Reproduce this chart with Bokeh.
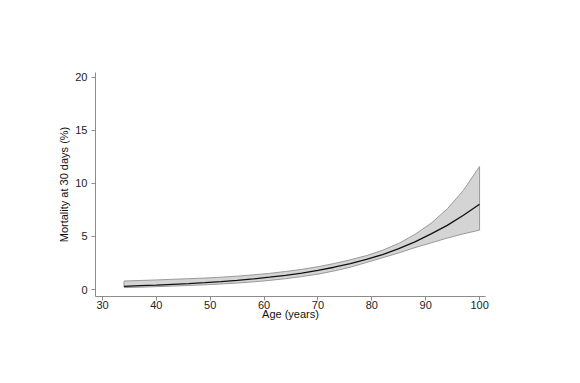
from bokeh.plotting import figure
from bokeh.models import ColumnDataSource, Range1d, FixedTicker
from bokeh.embed import file_html
from bokeh.resources import INLINE

age = [34, 37, 40, 43, 46, 49, 52, 55, 58, 61, 64, 67, 70, 73, 76, 79, 82, 85, 88, 91, 94, 97, 100]
mortality = [0.30, 0.36, 0.42, 0.49, 0.56, 0.64, 0.74, 0.86, 1.00, 1.16, 1.34, 1.55, 1.80, 2.10,
             2.45, 2.85, 3.30, 3.85, 4.50, 5.25, 6.05, 7.00, 8.05]
lower = [0.18, 0.22, 0.27, 0.32, 0.38, 0.44, 0.52, 0.61, 0.72, 0.86, 1.02, 1.22, 1.45, 1.75,
         2.10, 2.55, 3.00, 3.45, 3.95, 4.40, 4.85, 5.25, 5.60]
upper = [0.80, 0.85, 0.90, 0.96, 1.02, 1.08, 1.16, 1.26, 1.38, 1.52, 1.70, 1.90, 2.15, 2.45,
         2.80, 3.20, 3.70, 4.35, 5.20, 6.25, 7.60, 9.35, 11.60]
x_ticks = [30, 40, 50, 60, 70, 80, 90, 100]
y_ticks = [0, 5, 10, 15, 20]

src = ColumnDataSource(dict(age=age, m=mortality, lo=lower, hi=upper))

p = figure(width=580, height=383, output_backend="svg", toolbar_location=None,
           x_range=Range1d(28.7, 101.1), y_range=Range1d(-0.66, 20.47),
           min_border_left=95, min_border_right=95, min_border_top=72, min_border_bottom=87)

p.varea(x="age", y1="lo", y2="hi", source=src, fill_color="#d4d4d4", fill_alpha=1.0)
p.line(x="age", y="lo", source=src, line_color="#999999", line_width=1)
p.line(x="age", y="hi", source=src, line_color="#999999", line_width=1)
p.segment(x0=[age[0], age[-1]], y0=[lower[0], lower[-1]], x1=[age[0], age[-1]], y1=[upper[0], upper[-1]],
          line_color="#999999", line_width=1)
p.line(x="age", y="m", source=src, line_color="#111111", line_width=1.3)

p.xgrid.visible = False
p.ygrid.visible = False
p.outline_line_color = None
p.background_fill_color = "white"
p.border_fill_color = "white"

for ax in (p.xaxis[0], p.yaxis[0]):
    ax.axis_line_color = "#8c8c8c"
    ax.major_tick_line_color = "#8c8c8c"
    ax.minor_tick_line_color = None
    ax.major_tick_out = 4
    ax.major_tick_in = 0
    ax.major_label_text_font = "Liberation Sans"
    ax.major_label_text_font_size = "11px"
    ax.major_label_text_color = "#222222"
    ax.axis_label_text_font = "Liberation Sans"
    ax.axis_label_text_font_size = "11px"
    ax.axis_label_text_font_style = "normal"
    ax.axis_label_text_color = "#111111"

p.xaxis.ticker = FixedTicker(ticks=x_ticks)
p.yaxis.ticker = FixedTicker(ticks=y_ticks)
p.xaxis.axis_label = "Age (years)"
p.yaxis.axis_label = "Mortality at 30 days (%)"
p.xaxis.major_label_standoff = 0
p.xaxis.axis_label_standoff = -4
p.yaxis.major_label_standoff = 4
p.yaxis.axis_label_standoff = 2

open("out.html", "w").write(file_html(p, INLINE))
